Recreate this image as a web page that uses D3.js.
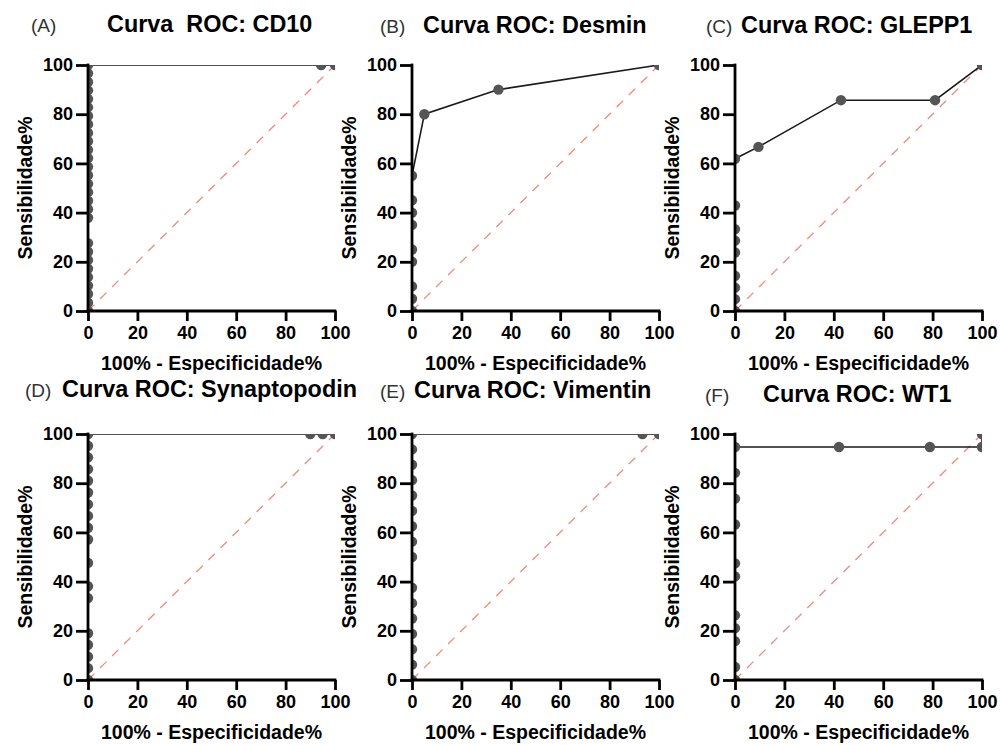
<!DOCTYPE html>
<html>
<head>
<meta charset="utf-8">
<script src="https://cdn.jsdelivr.net/npm/d3@7"></script>
<style>
  body { margin: 0; background: #fff; }
  svg { font-family: 'Liberation Sans', Arial, sans-serif; }
</style>
</head>
<body>
<svg id="chart" width="1000" height="745"></svg>
<script>
// panel letters and marker names
const letters = ['(A)', '(B)', '(C)', '(D)', '(E)', '(F)']
const titles = ['Curva  ROC: CD10', 'Curva ROC: Desmin', 'Curva ROC: GLEPP1',
                'Curva ROC: Synaptopodin', 'Curva ROC: Vimentin', 'Curva ROC: WT1']
const xTicks = [0, 20, 40, 60, 80, 100]
const yTicks = [0, 20, 40, 60, 80, 100]

// 100% - specificity (x) and sensitivity (y) for each ROC curve
const cd10X = [0, 0, 0, 0, 0, 0, 0, 0, 0, 0, 0, 0, 0, 0, 0, 0, 0, 0, 0, 0, 0, 0, 0, 0, 0, 0, 0, 0, 94.4, 100]
const cd10Y = [0, 3.4, 6.9, 10.3, 13.8, 17.2, 20.7, 24.1, 27.6, 37.9, 41.4, 44.8, 48.3, 51.7, 55.2,
               58.6, 62.1, 65.5, 69.0, 72.4, 75.9, 79.3, 82.8, 86.2, 89.7, 93.1, 96.6, 100, 100, 100]
const desminX = [0, 0, 0, 0, 0, 0, 0, 0, 0, 5, 35, 100]
const desminY = [0, 5, 10, 20, 25, 35, 40, 45, 55, 80, 90, 100]
const gleppX = [0, 0, 0, 0, 0, 0, 0, 0, 0, 9.5, 42.9, 81.0, 100]
const gleppY = [0, 4.8, 9.5, 14.3, 23.8, 28.6, 33.3, 42.9, 61.9, 66.7, 85.7, 85.7, 100]
const synX = [0, 0, 0, 0, 0, 0, 0, 0, 0, 0, 0, 0, 0, 0, 0, 0, 0, 0, 90, 95, 100]
const synY = [0, 4.8, 9.5, 14.3, 19.0, 33.3, 38.1, 47.6, 57.1, 61.9, 66.7, 71.4, 76.2, 81.0,
              85.7, 90.5, 95.2, 100, 100, 100, 100]
const vimX = [0, 0, 0, 0, 0, 0, 0, 0, 0, 0, 0, 0, 0, 0, 0, 0, 93.3, 100]
const vimY = [0, 6.25, 12.5, 18.75, 25, 31.25, 37.5, 50, 56.25, 62.5, 68.75, 75, 81.25, 87.5,
              93.75, 100, 100, 100]
const wt1X = [0, 0, 0, 0, 0, 0, 0, 0, 0, 0, 0, 42.1, 78.9, 100, 100]
const wt1Y = [0, 5.3, 15.8, 21.1, 26.3, 42.1, 47.4, 63.2, 73.7, 84.2, 94.7, 94.7, 94.7, 94.7, 100]

const curves = [[cd10X, cd10Y], [desminX, desminY], [gleppX, gleppY],
                [synX, synY], [vimX, vimY], [wt1X, wt1Y]]

// layout: plot origin and title offsets
const origins = [[88, 65], [412, 65], [735, 65], [88, 434], [412, 434], [735, 434]]
const letterDx = [-57, -32, -29, -63, -32, -30]
const titleDx = [19, 11, 6, -26, 2, 28]
const titleDy = [-33, -32, -32, -37, -36, -32]

let width = 247
let height = 246
let svg = d3.select('#chart')

let x = d3.scaleLinear().domain([0, 100]).range([0, width])
let y = d3.scaleLinear().domain([0, 100]).range([height, 0])

svg.append('defs')
  .append('clipPath')
  .attr('id', 'plotClip')
  .append('rect')
  .attr('width', width)
  .attr('height', height)

curves.forEach((c, i) => {
  let pts = c[0].map((v, k) => ({ x: v, y: c[1][k] }))
  let g = svg.append('g')
    .attr('transform', 'translate(' + origins[i][0] + ',' + origins[i][1] + ')')

  // titles
  g.append('text')
    .text(letters[i])
    .attr('x', letterDx[i])
    .attr('y', titleDy[i])
    .attr('font-size', 19)
    .attr('fill', '#333')

  g.append('text')
    .text(titles[i])
    .attr('x', titleDx[i])
    .attr('y', titleDy[i])
    .attr('font-size', 23.4)
    .attr('font-weight', 'bold')
    .attr('fill', '#000')
    .style('white-space', 'pre')

  let plot = g.append('g').attr('clip-path', 'url(#plotClip)')

  // reference diagonal
  plot.append('line')
    .attr('x1', x(0)).attr('y1', y(0))
    .attr('x2', x(100)).attr('y2', y(100))
    .attr('stroke', '#f08a80')
    .attr('stroke-width', 1.3)
    .attr('stroke-dasharray', '9,8')

  plot.append('path')
    .datum(pts)
    .attr('fill', 'none')
    .attr('stroke', '#1a1a1a')
    .attr('stroke-width', 1.6)
    .attr('d', d3.line().x(d => x(d.x)).y(d => y(d.y)))

  plot.selectAll('circle')
    .data(pts)
    .enter()
    .append('circle')
    .attr('cx', d => x(d.x))
    .attr('cy', d => y(d.y))
    .attr('r', 5.2)
    .attr('fill', '#555')

  // axes
  let xAxis = g.append('g')
    .attr('transform', 'translate(0,' + height + ')')
    .call(d3.axisBottom(x).tickValues(xTicks).tickSize(10).tickSizeOuter(0).tickPadding(5))
  let yAxis = g.append('g')
    .call(d3.axisLeft(y).tickValues(yTicks).tickSize(12).tickSizeOuter(0).tickPadding(3))

  ;[xAxis, yAxis].forEach(a => {
    a.select('.domain').attr('stroke', '#000').attr('stroke-width', 2.8)
    a.selectAll('.tick line').attr('stroke', '#000').attr('stroke-width', 2.8)
    a.selectAll('.tick text')
      .attr('fill', '#000')
      .attr('font-size', 18)
      .attr('font-weight', 'bold')
      .attr('font-family', "'Liberation Sans', Arial, sans-serif")
  })
  xAxis.select('.domain').attr('d', 'M-1.4,0H' + (width + 1.4))
  yAxis.select('.domain').attr('d', 'M0,' + (height + 1.4) + 'V-1.4')

  // axis titles
  g.append('text')
    .text('100% - Especificidade%')
    .attr('x', width / 2)
    .attr('y', height + 59)
    .attr('text-anchor', 'middle')
    .attr('font-size', 19.5)
    .attr('font-weight', 'bold')

  g.append('text')
    .text('Sensibilidade%')
    .attr('transform', 'translate(-56,' + (height / 2) + ') rotate(-90)')
    .attr('text-anchor', 'middle')
    .attr('font-size', 19.5)
    .attr('font-weight', 'bold')
})
</script>
</body>
</html>
